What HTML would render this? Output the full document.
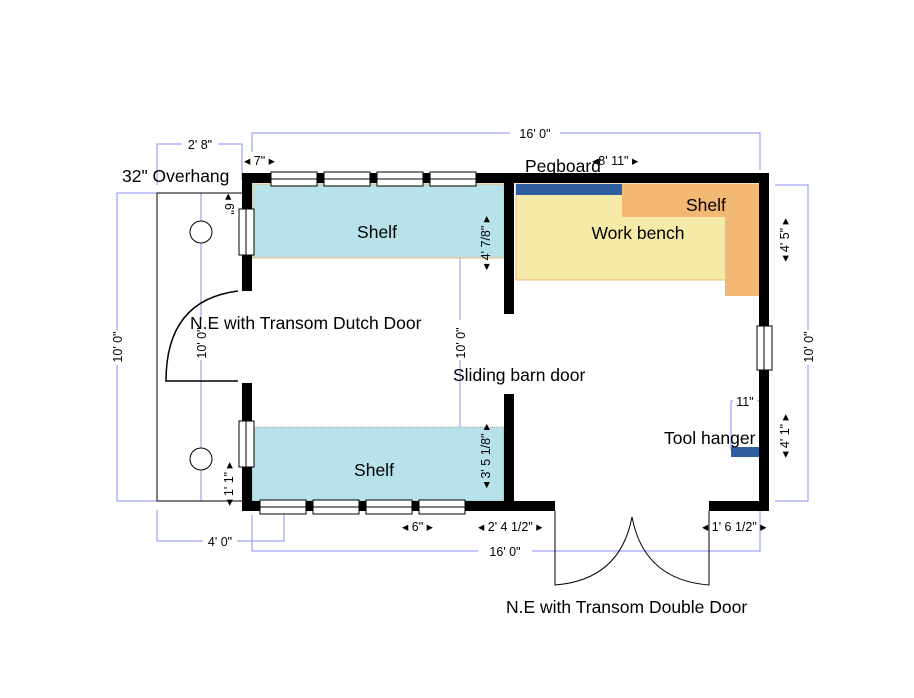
<!DOCTYPE html>
<html><head><meta charset="utf-8"><style>body{margin:0;background:#fff}svg{display:block}text{font-family:"Liberation Sans",sans-serif;fill:#000}</style></head><body>
<svg width="914" height="698" viewBox="0 0 914 698" xmlns="http://www.w3.org/2000/svg">
<g stroke="#8c8cff" stroke-width="1" fill="none">
<path d="M252,152 V133 H510 M560,133 H760 V170"/>
<path d="M157,185 V144 H182 M218,144 H242 V180"/>
<path d="M157,193 H117 V330 M117,365 V501 H157"/>
<path d="M201,193 V320 M201,360 V501"/>
<path d="M460,186 V320 M460,360 V501"/>
<path d="M775,185 H808 V330 M808,365 V501 H775"/>
<path d="M157,510 V541 H203 M237,541 H284 V506"/>
<path d="M252,515 V551 H478 M532,551 H760 V510"/>
<path d="M731,450 V401 H733 M757,401 H760 V450"/>
</g>
<path d="M242,193 H157 V501 H242" fill="none" stroke="#000" stroke-width="1"/>
<circle cx="201" cy="232" r="11" fill="#fff" stroke="#000"/>
<circle cx="201" cy="459" r="11" fill="#fff" stroke="#000"/>
<rect x="252" y="184" width="252" height="74" fill="#b8e2ea" stroke="#f3b874" stroke-width="1"/>
<rect x="252" y="427" width="252" height="74" fill="#b8e2ea" stroke="#666" stroke-width="0.6" stroke-dasharray="1,1"/>
<rect x="516" y="184" width="243" height="96" fill="#f5eaa8" stroke="#f3b874" stroke-width="1"/>
<path d="M622,184 H759 V296 H725 V217 H622 Z" fill="#f3b874"/>
<rect x="516" y="184" width="106" height="11" fill="#2f5fa0"/>
<rect x="731" y="447" width="28" height="10" fill="#2f5fa0"/>
<g fill="#000">
<rect x="242" y="173" width="527" height="10"/>
<rect x="242" y="173" width="10" height="118"/>
<rect x="242" y="383" width="10" height="128"/>
<rect x="242" y="501" width="313" height="10"/>
<rect x="709" y="501" width="60" height="10"/>
<rect x="504" y="183" width="10" height="131"/>
<rect x="504" y="394" width="10" height="107"/>
<rect x="759" y="173" width="10" height="338"/>
</g>
<g fill="#fff" stroke="#000" stroke-width="1">
<rect x="271" y="172" width="46" height="14"/><rect x="324" y="172" width="46" height="14"/><rect x="377" y="172" width="46" height="14"/><rect x="430" y="172" width="46" height="14"/>
<rect x="260" y="500" width="46" height="14"/><rect x="313" y="500" width="46" height="14"/><rect x="366" y="500" width="46" height="14"/><rect x="419" y="500" width="46" height="14"/>
<rect x="239" y="209" width="15" height="46"/><rect x="239" y="421" width="15" height="46"/><rect x="757" y="326" width="15" height="44"/>
</g>
<g stroke="#000" stroke-width="1" fill="none">
<path d="M271,179H317M324,179H370M377,179H423M430,179H476M260,507H306M313,507H359M366,507H412M419,507H465M246,209V255M246,421V467M764,326V370"/>
<path d="M238,291 Q166,300 166,381 L238,381" stroke-width="1.5"/>
<path d="M555,511 V585 Q620,580 632,517 Q644,580 709,585 V511"/>
</g>
<g font-size="17.5">
<text x="122" y="182">32" Overhang</text>
<text x="377" y="238" text-anchor="middle">Shelf</text>
<text x="374" y="476" text-anchor="middle">Shelf</text>
<text x="638" y="239" text-anchor="middle">Work bench</text>
<text x="686" y="211">Shelf</text>
<text x="525" y="172">Pegboard</text>
<text x="190" y="329">N.E with Transom Dutch Door</text>
<text x="453" y="381">Sliding barn door</text>
<text x="664" y="444">Tool hanger</text>
<text x="506" y="613">N.E with Transom Double Door</text>
</g>
<g font-size="12.5">
<text x="535" y="138" text-anchor="middle">16' 0"</text>
<text x="200" y="149" text-anchor="middle">2' 8"</text>
<text x="244" y="165">◂ 7" ▸</text>
<text x="592" y="165">◂8' 11" ▸</text>
<text x="220" y="546" text-anchor="middle">4' 0"</text>
<text x="505" y="556" text-anchor="middle">16' 0"</text>
<text x="402" y="531">◂ 6" ▸</text>
<text x="478" y="531">◂ 2' 4 1/2" ▸</text>
<text x="702" y="531">◂ 1' 6 1/2" ▸</text>
<text x="745" y="406" text-anchor="middle">11"</text>
<text transform="translate(122,347) rotate(-90)" text-anchor="middle">10' 0"</text>
<text transform="translate(206,343) rotate(-90)" text-anchor="middle">10' 0"</text>
<text transform="translate(465,343) rotate(-90)" text-anchor="middle">10' 0"</text>
<text transform="translate(813,347) rotate(-90)" text-anchor="middle">10' 0"</text>
<text transform="translate(490,243) rotate(-90)" text-anchor="middle">◂ 4' 7/8" ▸</text>
<text transform="translate(490,456) rotate(-90)" text-anchor="middle">◂ 3' 5 1/8" ▸</text>
<text transform="translate(233,484) rotate(-90)" text-anchor="middle">◂ 1' 1" ▸</text>
<text transform="translate(789,240) rotate(-90)" text-anchor="middle">◂ 4' 5" ▸</text>
<text transform="translate(789,436) rotate(-90)" text-anchor="middle">◂ 4' 1" ▸</text>
<text transform="translate(225,204) rotate(90)" text-anchor="middle">◂ 6"</text>
</g>
</svg>
</body></html>
